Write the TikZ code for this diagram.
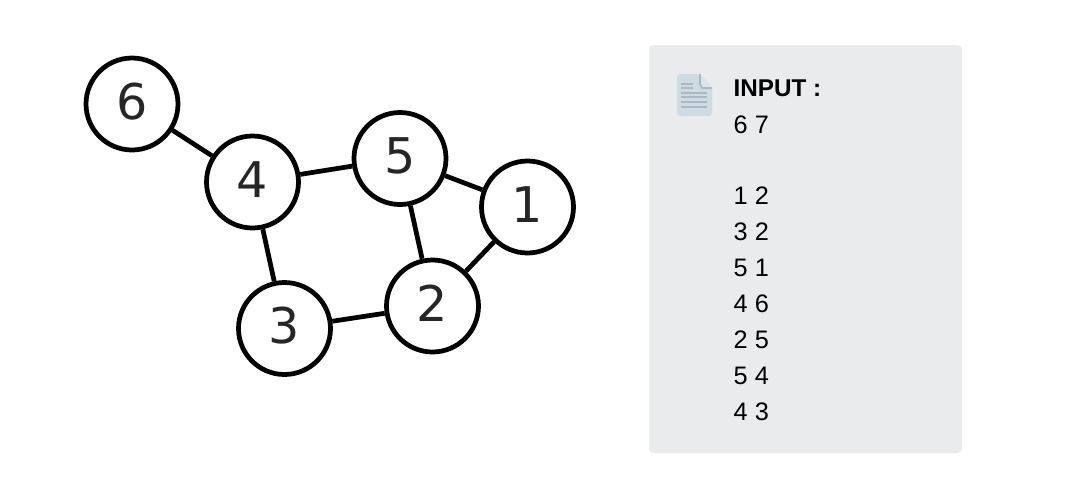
\documentclass[tikz,border=0pt]{standalone}
\usepackage{fontspec}
\setmainfont{Liberation Sans}
\newfontfamily\digitfont{DejaVu Sans}
\usetikzlibrary{positioning}
\definecolor{PANEL-GREY}{HTML}{E9EBED}
\definecolor{ICON-BLUE}{HTML}{CFDBE3}
\definecolor{ICON-FOLD}{HTML}{DCE5EB}
\definecolor{ICON-LINE}{HTML}{A9B8C3}
\definecolor{DIGIT-GREY}{HTML}{262626}
\tikzset{
	vertex/.style={draw,circle,line width=1.35pt,fill=white,inner sep=0pt,minimum size=0.92cm,text=DIGIT-GREY,text height=0.36cm,text depth=0.06cm,font=\digitfont\fontsize{14}{14}\selectfont},
	edge/.style={line width=1.35pt},
	inputline/.style={inner sep=0pt,anchor=base west,font=\fontsize{7.2}{9}\selectfont}
}
\begin{document}
\begin{tikzpicture}[x=1cm,y=-1cm]
	\useasboundingbox (0,0) rectangle (10.73,4.99);

	% draw panel
	\fill[PANEL-GREY,rounded corners=1.2pt] (6.49,0.45) rectangle (9.62,4.53);

	% draw icon
	\fill[ICON-BLUE,rounded corners=1pt] (6.77,0.74) -- (7.00,0.74) -- (7.12,0.87) -- (7.12,1.16) -- (6.77,1.16) -- cycle;
	\fill[ICON-FOLD] (7.00,0.74) -- (7.12,0.88) -- (7.02,0.88) -- (7.00,0.84) -- cycle;
	\draw[ICON-LINE,line width=0.5pt] (7.00,0.74) -- (7.00,0.84) -- (7.02,0.88) -- (7.12,0.88);
	\foreach \y/\xend in {0.84/6.93,0.88/6.93,0.93/7.07,0.97/7.07,1.02/7.07,1.07/7.07}
		\draw[ICON-LINE,line width=0.5pt] (6.81,\y) -- (\xend,\y);

	% draw nodes
	\node (v6) at (1.32,1.04) [vertex] {6};
	\node (v4) at (2.525,1.82) [vertex] {4};
	\node (v5) at (4.00,1.585) [vertex] {5};
	\node (v1) at (5.275,2.07) [vertex] {1};
	\node (v2) at (4.325,3.06) [vertex] {2};
	\node (v3) at (2.845,3.285) [vertex] {3};

	% draw edges
	\draw[edge] (v6) to (v4);
	\draw[edge] (v4) to (v5);
	\draw[edge] (v5) to (v1);
	\draw[edge] (v5) to (v2);
	\draw[edge] (v1) to (v2);
	\draw[edge] (v4) to (v3);
	\draw[edge] (v3) to (v2);

	% draw input text
	\node (title) at (7.33,0.96) [inputline,font=\fontsize{6.9}{9}\bfseries\selectfont] {INPUT :};
	\node (size) at (7.33,1.33) [inputline] {6 7};
	\foreach \i/\a/\b in {0/1/2,1/3/2,2/5/1,3/4/6,4/2/5,5/5/4,6/4/3}
		\node (line\i) at (7.33,2.04+0.36*\i) [inputline] {\a\ \b};
\end{tikzpicture}
\end{document}
